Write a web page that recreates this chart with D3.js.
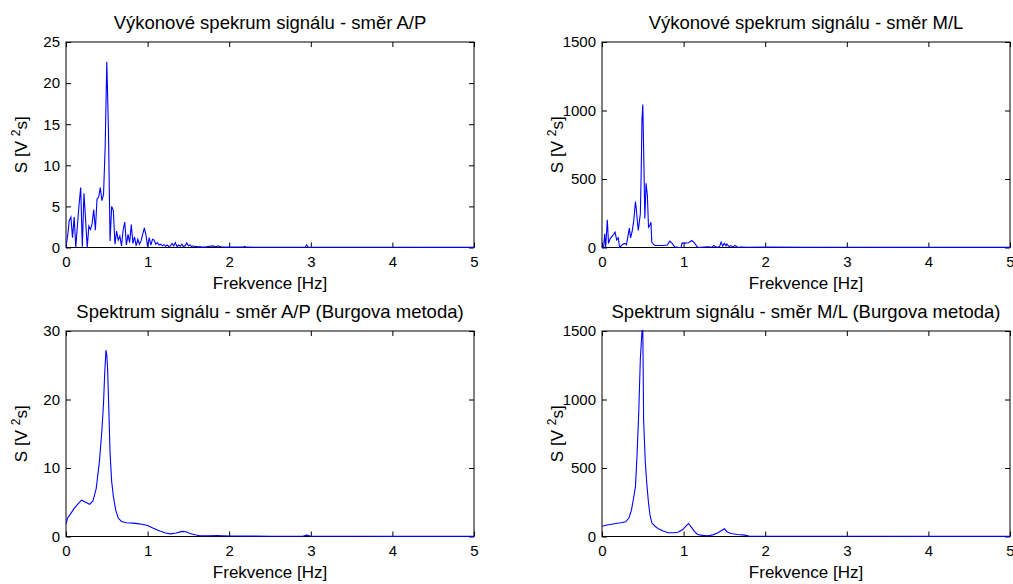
<!DOCTYPE html>
<html>
<head>
<meta charset="utf-8">
<script src="https://cdn.jsdelivr.net/npm/d3@7"></script>
<style>
  body { margin: 0; background: #fff; }
  svg { display: block; }
  text { font-family: "Liberation Sans", Arial, sans-serif; fill: #000; }
</style>
</head>
<body>
<svg id="chart"></svg>
<script>
// spectra, [frequency Hz, S]
const apFft = [
  [0,0.1],[0.02,1.4],[0.04,3.3],[0.06,3.7],[0.08,1.2],[0.10,3.7],[0.12,0.0],[0.14,2.7],
  [0.16,5.2],[0.18,7.3],[0.20,0.1],[0.22,6.6],[0.24,3.4],[0.26,0.0],[0.28,2.6],[0.30,2.2],
  [0.32,2.9],[0.34,4.6],[0.36,2.1],[0.38,5.9],[0.40,6.1],[0.42,7.3],[0.44,5.7],[0.46,6.5],
  [0.48,12.2],[0.50,22.6],[0.52,14.4],[0.54,0.8],[0.56,5.0],[0.58,4.5],[0.60,0.4],[0.62,2.0],
  [0.64,0.9],[0.66,1.4],[0.68,0.2],[0.70,2.1],[0.72,3.1],[0.74,0.3],[0.76,1.6],[0.78,0.6],
  [0.80,2.8],[0.82,0.5],[0.84,1.3],[0.86,0.2],[0.88,1.0],[0.90,0.4],[0.92,0.8],[0.94,1.6],
  [0.96,2.4],[0.98,1.5],[1.00,0.1],[1.02,1.2],[1.04,0.3],[1.06,1.0],[1.08,0.9],[1.10,0.4],
  [1.12,0.6],[1.14,0.3],[1.16,0.4],[1.18,0.2],[1.20,0.35],[1.22,0.15],[1.24,0.3],[1.26,0.1],
  [1.28,0.2],[1.30,0.5],[1.32,0.2],[1.34,0.6],[1.36,0.1],[1.38,0.3],[1.40,0.15],[1.42,0.4],
  [1.44,0.1],[1.46,0.2],[1.48,0.55],[1.50,0.2],[1.52,0.3],[1.54,0.1],[1.56,0.2],[1.58,0.1],
  [1.60,0.15],[1.62,0.05],[1.64,0.1],[1.66,0.05],[1.70,0.05],[1.76,0.15],[1.80,0.2],[1.84,0.1],
  [1.86,0.2],[1.90,0.1],[1.96,0.05],[2.0,0.05],[2.17,0.04],[2.19,0.15],[2.21,0.04],
  [2.93,0.03],[2.95,0.3],[2.97,0.03],[3.5,0.03],[4.0,0.03],[4.5,0.02],[5.0,0.02]
];

const mlFft = [
  [0,0],[0.02,0],[0.033,100],[0.045,0],[0.065,203],[0.08,30],[0.10,65],[0.12,80],[0.14,95],
  [0.16,112],[0.18,55],[0.20,70],[0.215,0],[0.24,15],[0.26,25],[0.28,30],[0.30,20],[0.32,90],
  [0.335,141],[0.35,70],[0.37,120],[0.39,200],[0.41,336],[0.42,283],[0.435,180],[0.445,124],
  [0.46,200],[0.47,246],[0.48,539],[0.49,934],[0.50,1044],[0.513,629],[0.525,212],[0.54,468],
  [0.556,380],[0.57,148],[0.585,160],[0.60,185],[0.61,39],[0.63,25],[0.65,15],[0.70,15],
  [0.75,15],[0.80,18],[0.83,46],[0.86,30],[0.89,5],[0.93,2],[0.97,0],[0.98,32],[1.02,32],
  [1.06,35],[1.10,51],[1.13,35],[1.16,10],[1.18,0],[1.25,3],[1.30,5],[1.35,2],[1.37,15],
  [1.40,3],[1.44,5],[1.46,40],[1.48,10],[1.50,30],[1.52,12],[1.53,25],[1.56,5],[1.58,15],
  [1.60,3],[1.63,15],[1.66,2],[1.70,4],[1.80,2],[2.0,3],[2.5,1],[3.0,2],[3.5,1],[4.0,1],
  [4.5,1],[5.0,1]
];

const apBurg = [
  [0,1.8],[0.02,2.7],[0.05,3.2],[0.10,4.1],[0.15,4.8],[0.19,5.3],[0.24,5.0],[0.29,4.7],
  [0.33,5.2],[0.37,7.0],[0.41,11.0],[0.44,15.5],[0.46,19.5],[0.475,24.0],[0.49,27.2],
  [0.50,26.5],[0.51,24.5],[0.525,18.5],[0.54,12.2],[0.56,8.0],[0.58,5.9],[0.61,3.8],
  [0.64,2.7],[0.68,2.2],[0.74,2.0],[0.82,1.95],[0.90,1.85],[1.0,1.6],[1.07,1.2],[1.15,0.8],
  [1.22,0.5],[1.28,0.38],[1.35,0.5],[1.42,0.75],[1.47,0.7],[1.52,0.45],[1.58,0.25],
  [1.64,0.12],[1.75,0.12],[1.85,0.15],[2.0,0.08],[2.5,0.04],[2.9,0.04],[2.95,0.2],
  [3.0,0.04],[3.5,0.03],[4.0,0.02],[4.5,0.02],[5.0,0.02]
];

const mlBurg = [
  [0,75],[0.05,82],[0.10,88],[0.17,95],[0.23,100],[0.29,107],[0.33,135],[0.36,190],
  [0.39,290],[0.41,366],[0.43,600],[0.45,900],[0.47,1300],[0.49,1495],[0.50,1520],
  [0.51,852],[0.53,548],[0.55,380],[0.57,245],[0.59,150],[0.61,100],[0.65,75],[0.69,56],
  [0.75,40],[0.81,27],[0.87,27],[0.93,31],[0.99,51],[1.02,70],[1.06,95],[1.09,72],
  [1.13,40],[1.17,15],[1.23,8],[1.30,5],[1.36,12],[1.42,27],[1.47,45],[1.50,56],[1.53,35],
  [1.58,22],[1.66,15],[1.75,10],[1.80,3],[2.0,2],[3.0,2],[4.0,1],[5.0,1]
];

const xTicks = [0, 1, 2, 3, 4, 5];
const apFftTicks = [0, 5, 10, 15, 20, 25];
const mlTicks = [0, 500, 1000, 1500];
const apBurgTicks = [0, 10, 20, 30];

const titles = [
  "Výkonové spekrum signálu - směr A/P",
  "Výkonové spekrum signálu - směr M/L",
  "Spektrum signálu - směr A/P (Burgova metoda)",
  "Spektrum signálu - směr M/L (Burgova metoda)"
];
const xLabel = "Frekvence [Hz]";

const width = 1013, height = 584;
const svg = d3.select('#chart').attr('width', width).attr('height', height);

// one entry per subplot
const panels = [
  { data: apFft,  yMax: 25,   yTicks: apFftTicks,  left: 66,  top: 42,  title: titles[0] },
  { data: mlFft,  yMax: 1500, yTicks: mlTicks,     left: 602, top: 42,  title: titles[1] },
  { data: apBurg, yMax: 30,   yTicks: apBurgTicks, left: 66,  top: 331, title: titles[2] },
  { data: mlBurg, yMax: 1500, yTicks: mlTicks,     left: 602, top: 331, title: titles[3] }
];
const boxW = 408, boxH = 205.5;

panels.forEach((p, i) => {
  const g = svg.append('g').attr('transform', `translate(${p.left},${p.top})`);

  const x = d3.scaleLinear().domain([0, 5]).range([0, boxW]);
  const y = d3.scaleLinear().domain([0, p.yMax]).range([boxH, 0]);

  // ticks point inwards on all four sides
  g.append('g').attr('transform', `translate(0,${boxH})`)
    .call(d3.axisBottom(x).tickValues(xTicks).tickFormat(d3.format('d')).tickSize(-5).tickPadding(9));
  g.append('g').call(d3.axisTop(x).tickValues(xTicks).tickFormat('').tickSize(-5));
  g.append('g')
    .call(d3.axisLeft(y).tickValues(p.yTicks).tickFormat(d3.format('d')).tickSize(-5).tickPadding(6));
  g.append('g').attr('transform', `translate(${boxW},0)`)
    .call(d3.axisRight(y).tickValues(p.yTicks).tickFormat('').tickSize(-5));

  g.selectAll('.domain').remove();
  g.selectAll('.tick line').attr('stroke', '#000');
  g.selectAll('.tick text')
    .style('font-size', '15px')
    .style('font-family', '"Liberation Sans", Arial, sans-serif')
    .attr('fill', '#000');

  g.append('rect')
    .attr('x', 0).attr('y', 0)
    .attr('width', boxW).attr('height', boxH)
    .attr('fill', 'none')
    .attr('stroke', '#000')
    .attr('stroke-width', 1);

  const clipId = 'clip' + i;
  g.append('clipPath').attr('id', clipId)
    .append('rect').attr('x', 0).attr('y', -1).attr('width', boxW + 1).attr('height', boxH + 2);

  const line = d3.line()
    .x(d => x(d[0]))
    .y(d => y(d[1]));

  g.append('path')
    .datum(p.data)
    .attr('clip-path', `url(#${clipId})`)
    .attr('d', line)
    .attr('fill', 'none')
    .attr('stroke', '#0000ff')
    .attr('stroke-width', 1.1);

  // title
  g.append('text')
    .attr('x', boxW / 2)
    .attr('y', -13)
    .attr('text-anchor', 'middle')
    .style('font-size', '18.5px')
    .text(p.title);

  // x label
  g.append('text')
    .attr('x', boxW / 2)
    .attr('y', boxH + 41)
    .attr('text-anchor', 'middle')
    .style('font-size', '17px')
    .text(xLabel);

  // y label, S [V^2 s]
  const yl = g.append('text')
    .attr('transform', `translate(${-39},${boxH / 2}) rotate(-90)`)
    .attr('text-anchor', 'middle')
    .style('font-size', '17px');
  yl.append('tspan').text('S [V ');
  yl.append('tspan').attr('dy', -7).style('font-size', '12px').text('2');
  yl.append('tspan').attr('dy', 7).text('s]');
});
</script>
</body>
</html>
